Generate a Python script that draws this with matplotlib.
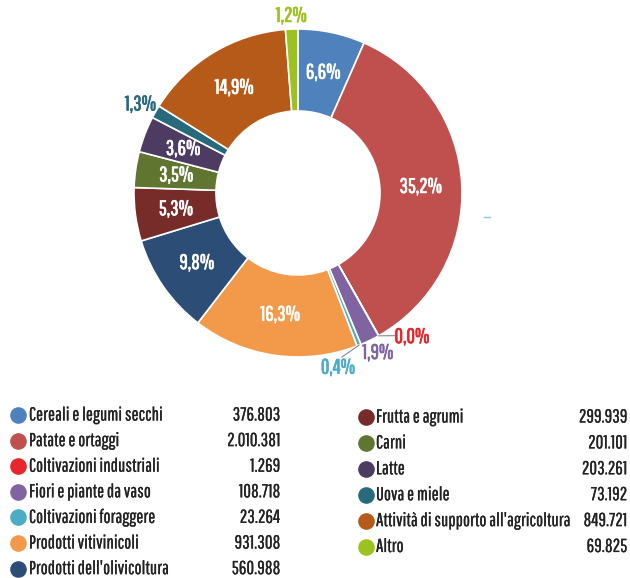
import matplotlib
matplotlib.use('Agg')
import matplotlib.pyplot as plt
import matplotlib.patheffects as pe
import numpy as np

plt.rcParams['font.family'] = ['Pathway Gothic One', 'DejaVu Sans']

categorie = ['Cereali e legumi secchi', 'Patate e ortaggi', 'Coltivazioni industriali',
             'Fiori e piante da vaso', 'Coltivazioni foraggere', 'Prodotti vitivinicoli',
             "Prodotti dell'olivicoltura", 'Frutta e agrumi', 'Carni', 'Latte',
             'Uova e miele', "Attività di supporto all'agricoltura", 'Altro']
valori = [376803, 2010381, 1269, 108718, 23264, 931308, 560988, 299939,
          201101, 203261, 73192, 849721, 69825]
colori = ['#4F81BD', '#C0504D', '#E8262B', '#8064A2', '#4BACC6', '#F2994A',
          '#2C4D75', '#772C2A', '#5F7530', '#4D3B62', '#276A7C', '#B65A1A', '#9BC21E']

W, H = 630, 578
fig = plt.figure(figsize=(W / 100, H / 100), dpi=100)

# donut: center (298,193) px, radius 164 px
cx, cy, R = 298, 193, 164
ax = fig.add_axes([(cx - R) / W, 1 - (cy + R) / H, 2 * R / W, 2 * R / H])
wedges, _ = ax.pie(valori, colors=colori, startangle=90, counterclock=False,
                   radius=1, wedgeprops=dict(width=0.5, edgecolor='white', linewidth=1.2))
ax.set_xlim(-1, 1)
ax.set_ylim(-1, 1)
ax.set_aspect('equal')
ax.axis('off')

tot = sum(valori)
perc = [v / tot * 100 for v in valori]


def fmt(p):
    return ('%.1f%%' % p).replace('.', ',')


# labels outside for the small slices (data coords)
fuori = {
    2: (0.695, -0.878),
    3: (0.487, -0.975),
    4: (0.244, -1.065),
    10: (-0.96, 0.54),
    12: (-0.04, 1.08),
}

for i, w in enumerate(wedges):
    ang = np.deg2rad((w.theta1 + w.theta2) / 2)
    if i in fuori:
        x, y = fuori[i]
        col = colori[i]
    else:
        x, y = 0.75 * np.cos(ang), 0.75 * np.sin(ang)
        col = 'white'
    ax.text(x, y, fmt(perc[i]), color=col, fontsize=15, ha='center', va='center',
            path_effects=[pe.withStroke(linewidth=0.5, foreground=col)])

# leader lines
for i, (x1, y1) in [(2, (0.59, -0.87)), (4, (0.268, -1.0))]:
    w = wedges[i]
    ang = np.deg2rad((w.theta1 + w.theta2) / 2)
    ax.plot([np.cos(ang), x1], [np.sin(ang), y1], color='#888888', lw=0.8, clip_on=False)

# legend area in pixel coordinates
lg = fig.add_axes([0, 0, 1, 1])
lg.set_xlim(0, W)
lg.set_ylim(H, 0)
lg.axis('off')
lg.patch.set_alpha(0)

testo = dict(fontsize=13.5, va='center', color='#222222',
             path_effects=[pe.withStroke(linewidth=0.15, foreground='#222222')])

sinistra = list(range(7))
destra = list(range(7, 13))
for k, i in enumerate(sinistra):
    y = 415 + k * 25.6
    lg.scatter([18], [y], s=120, color=colori[i], zorder=3)
    lg.text(29, y, categorie[i], ha='left', **testo)
    lg.text(280, y, '{:,}'.format(valori[i]).replace(',', '.'), ha='right', **testo)
for k, i in enumerate(destra):
    y = 417 + k * 25.9
    lg.scatter([366], [y], s=120, color=colori[i], zorder=3)
    lg.text(376, y, categorie[i], ha='left', **testo)
    lg.text(627, y, '{:,}'.format(valori[i]).replace(',', '.'), ha='right', **testo)

# small stray tick on the right of the donut
lg.plot([484, 490], [217, 217], color='#8EC9DB', lw=1)

fig.savefig('out.png', dpi=100)
